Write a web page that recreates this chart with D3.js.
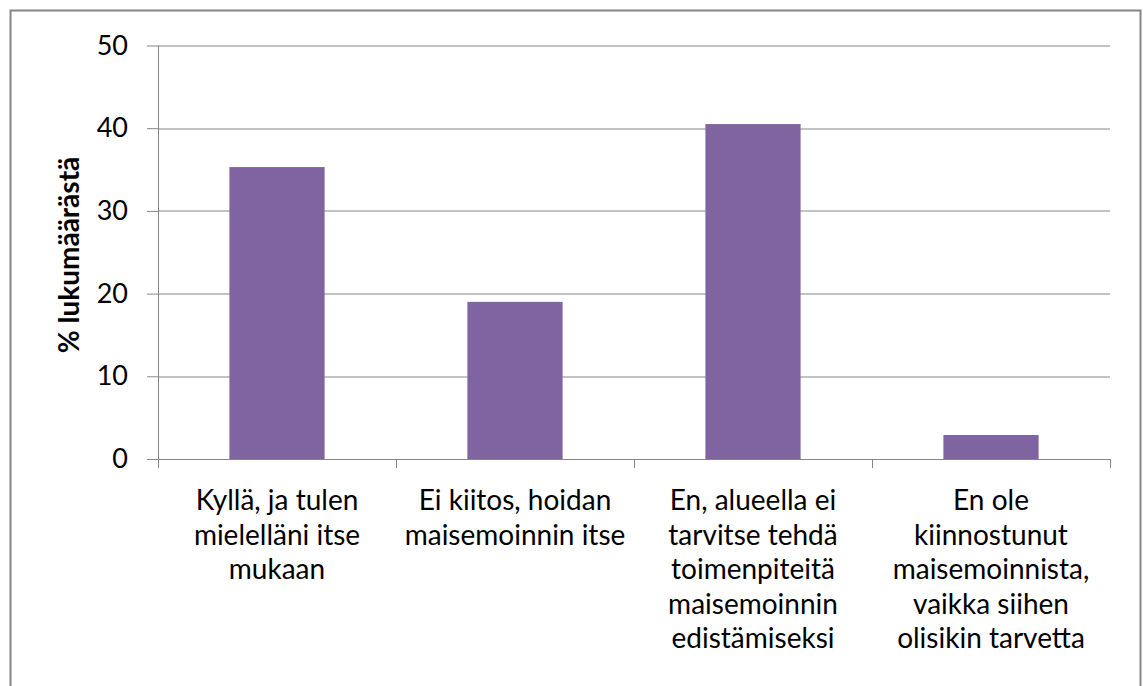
<!DOCTYPE html>
<html>
<head>
<meta charset="utf-8">
<script src="https://cdn.jsdelivr.net/npm/d3@7"></script>
<style>
  body { margin: 0; background: #fff; }
  svg { display: block; }
  .axis text { font-family: Lato, "Open Sans", sans-serif; font-size: 27px; fill: #000; }
  .axis path, .axis line { stroke: #868686; }
  .grid line { stroke: #868686; }
  .label { font-family: Lato, "Open Sans", sans-serif; font-size: 28px; fill: #000; }
</style>
</head>
<body>
<svg id="chart" width="1143" height="686"></svg>
<script>
// chart data
var categories = [
  ["Kyllä, ja tulen", "mielelläni itse", "mukaan"],
  ["Ei kiitos, hoidan", "maisemoinnin itse"],
  ["En, alueella ei", "tarvitse tehdä", "toimenpiteitä", "maisemoinnin", "edistämiseksi"],
  ["En ole", "kiinnostunut", "maisemoinnista,", "vaikka siihen", "olisikin tarvetta"]
];
var values = [35.3, 19.0, 40.5, 2.9];
var yTicks = [0, 10, 20, 30, 40, 50];
var yTitle = "% lukumäärästä";

var margin = {top: 45.5, right: 33, bottom: 227, left: 158};
var svg = d3.select("#chart");
var width = 1143 - margin.left - margin.right;
var height = 686 - margin.top - margin.bottom;

// outer frame
svg.append("rect")
    .attr("x", 10.5)
    .attr("y", 10.5)
    .attr("width", 1130)
    .attr("height", 700)
    .attr("fill", "none")
    .attr("stroke", "#868686")
    .attr("stroke-width", 2);

var g = svg.append("g")
    .attr("transform", "translate(" + margin.left + "," + margin.top + ")");

var x = d3.scaleBand()
    .domain(d3.range(categories.length))
    .range([0, width]);
var y = d3.scaleLinear()
    .domain([0, 50])
    .range([height, 0]);

// gridlines
g.append("g")
    .attr("class", "grid")
  .selectAll("line")
  .data(yTicks.filter(function(d) { return d > 0; }))
  .enter().append("line")
    .attr("x1", 0)
    .attr("x2", width)
    .attr("y1", function(d) { return Math.round(y(d)) + 0.5; })
    .attr("y2", function(d) { return Math.round(y(d)) + 0.5; });

// bars, excel-style gap width 150%
var barW = x.bandwidth() * 0.4;
g.selectAll(".bar")
  .data(values)
  .enter().append("rect")
    .attr("class", "bar")
    .attr("x", function(d, i) { return x(i) + (x.bandwidth() - barW) / 2; })
    .attr("width", barW)
    .attr("y", function(d) { return y(d); })
    .attr("height", function(d) { return height - y(d); })
    .attr("fill", "#8064a2");

// y axis
var yAxis = d3.axisLeft(y).tickValues(yTicks).tickSize(11).tickPadding(19);
g.append("g")
    .attr("class", "axis axis--y")
    .call(yAxis)
    .call(function(a) { a.select(".domain").attr("d", "M0.5," + height + "V0"); });

// x axis with ticks at category boundaries
var xAxisG = g.append("g")
    .attr("class", "axis axis--x")
    .attr("transform", "translate(0," + height + ")");
xAxisG.append("line")
    .attr("x1", -11)
    .attr("x2", width)
    .attr("y1", 0.5)
    .attr("y2", 0.5);
xAxisG.selectAll(".xtick")
  .data(d3.range(categories.length + 1))
  .enter().append("line")
    .attr("class", "xtick")
    .attr("x1", function(d) { return Math.round(d * x.step()) + 0.5; })
    .attr("x2", function(d) { return Math.round(d * x.step()) + 0.5; })
    .attr("y1", 0)
    .attr("y2", 9);

// wrapped category labels
g.selectAll(".label")
  .data(categories)
  .enter().append("text")
    .attr("class", "label")
    .attr("text-anchor", "middle")
    .attr("transform", function(d, i) {
      return "translate(" + (x(i) + x.bandwidth() / 2) + "," + (height + 51) + ")";
    })
  .selectAll("tspan")
  .data(function(d) { return d; })
  .enter().append("tspan")
    .attr("x", 0)
    .attr("y", function(d, i) { return i * 34.5; })
    .text(function(d) { return d; });

// y title
svg.append("text")
    .attr("transform", "translate(79,255) rotate(-90)")
    .attr("text-anchor", "middle")
    .style("font-family", "Lato, 'Open Sans', sans-serif")
    .style("font-weight", "bold")
    .style("font-size", "28px")
    .text(yTitle);
</script>
</body>
</html>
